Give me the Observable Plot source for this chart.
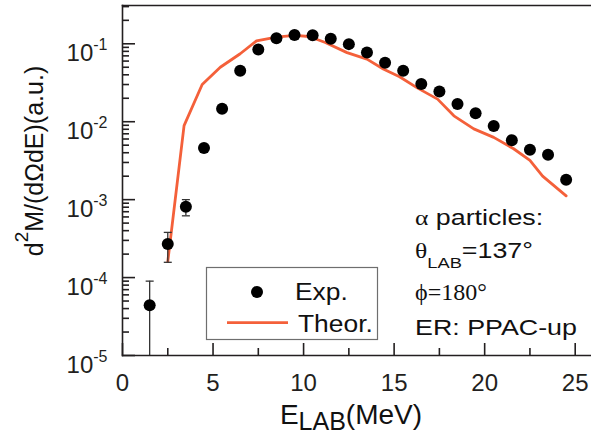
<!DOCTYPE html>
<html><head><meta charset="utf-8">
<script src="https://cdn.jsdelivr.net/npm/d3@7"></script>
<script src="https://cdn.jsdelivr.net/npm/@observablehq/plot@0.6"></script>
<style>
html,body{margin:0;padding:0;background:#fff;}
#chart{position:relative;width:591px;height:435px;overflow:hidden;}
</style></head><body><div id="chart"></div>
<script>
// ---- data ----
const expEnergy = [1.5, 2.5, 3.5, 4.5, 5.5, 6.5, 7.5, 8.5, 9.5, 10.5, 11.5, 12.5,
                   13.5, 14.5, 15.5, 16.5, 17.5, 18.5, 19.5, 20.5, 21.5, 22.5, 23.5, 24.5];
const expValue = [4.4e-5, 2.7e-4, 8.1e-4, 4.6e-3, 0.0147, 0.045, 0.0845, 0.118, 0.130, 0.129, 0.116, 0.099,
                  0.0774, 0.057, 0.045, 0.0304, 0.0245, 0.0169, 0.0128, 0.0088, 0.0058, 0.00437, 0.00378, 0.0018];
const errEnergy = [1.5, 2.5, 3.5];
const errLow = [5e-6, 1.57e-4, 6.2e-4];
const errHigh = [9e-5, 3.8e-4, 1.0e-3];
const theorEnergy = [2.5, 3.4, 4.4, 5.4, 6.5, 7.4, 8.5, 9.5, 10.3, 11.2, 12.4, 13.5,
                     14.4, 15.3, 16.3, 17.4, 18.3, 19.4, 20.5, 21.6, 22.5, 23.2, 24.5];
const theorValue = [1.6e-4, 8.9e-3, 0.030, 0.050, 0.0745, 0.109, 0.122, 0.128, 0.124, 0.104, 0.077, 0.0636,
                    0.0474, 0.0378, 0.027, 0.0195, 0.0119, 0.0081, 0.0063, 0.0045, 0.0032, 0.0020, 0.00112];
const xTicksMajor = [0, 5, 10, 15, 20, 25];
const xTicksMinor = [2.5, 7.5, 12.5, 17.5, 22.5];
const yTicksMajor = [1e-5, 1e-4, 1e-3, 1e-2, 1e-1];
const yTickExponents = ["-5", "-4", "-3", "-2", "-1"];
const xDomain = [0, 25.9];
const yDomain = [1e-5, 0.31];
const legendLabels = ["Exp.", "Theor."];

// ---- layout / style ----
const W = 591, H = 435, mL = 122, mT = 5, mB = 80, mR = 0;
const axisColor = "#231f20";
const theorColor = "#f4603a";
const sans = "'Liberation Sans', Arial, Helvetica, sans-serif";
const serif = "'Liberation Serif', 'Times New Roman', serif";

const yTicksMinor = [];
for (const dec of yTicksMajor) for (let k = 2; k <= 9; k++) { const v = dec * k; if (v <= yDomain[1]) yTicksMinor.push(v); }

const expData = expEnergy.map((e, i) => ({e, v: expValue[i]}));
const errData = errEnergy.map((e, i) => ({e, lo: errLow[i], hi: errHigh[i]}));
const capData = [];
errData.forEach(d => { capData.push({e: d.e, v: d.hi}); if (d.lo >= yDomain[0]) capData.push({e: d.e, v: d.lo}); });
const theorData = theorEnergy.map((e, i) => ({e, v: theorValue[i]}));
const expByTick = new Map(yTicksMajor.map((t, i) => [t, yTickExponents[i]]));

const capSymbol = {draw(ctx, size) { const r = Math.sqrt(size / Math.PI); ctx.moveTo(-r, 0); ctx.lineTo(r, 0); }};

const svg = Plot.plot({
  width: W, height: H, marginLeft: mL, marginRight: mR, marginTop: mT, marginBottom: mB,
  style: {fontFamily: sans, fontSize: "24px", color: axisColor, background: "#fff", overflow: "visible"},
  x: {domain: xDomain, label: null},
  y: {type: "log", domain: yDomain, label: null},
  marks: [
    // inward ticks (negative tick size points them into the frame)
    Plot.axisX({ticks: xTicksMajor, tickSize: -12, tickFormat: () => "", label: null, stroke: axisColor, strokeWidth: 1.6}),
    Plot.axisX({ticks: xTicksMinor, tickSize: -7, tickFormat: () => "", label: null, stroke: axisColor, strokeWidth: 1.6}),
    Plot.axisY({ticks: yTicksMajor, tickSize: -13, tickFormat: () => "", label: null, stroke: axisColor, strokeWidth: 1.6}),
    Plot.axisY({ticks: yTicksMinor, tickSize: -7, tickFormat: () => "", label: null, stroke: axisColor, strokeWidth: 1.6}),
    // tick labels
    Plot.axisX({ticks: xTicksMajor, tickSize: 0, tickPadding: 18, fontSize: 24, tickFormat: d => String(d), label: null}),
    Plot.axisY({ticks: yTicksMajor, tickSize: 0, tickPadding: 15, fontSize: 24, tickFormat: d => "10^" + expByTick.get(d), label: null}),
    // data
    Plot.line(theorData, {x: "e", y: "v", stroke: theorColor, strokeWidth: 2.8}),
    Plot.ruleX(errData, {x: "e", y1: "lo", y2: "hi", stroke: "#333", strokeWidth: 1.3, clip: true}),
    Plot.dot(capData, {x: "e", y: "v", symbol: capSymbol, r: 4, stroke: "#333", strokeWidth: 1.3, fill: "none"}),
    Plot.dot(expData, {x: "e", y: "v", r: 6, fill: "#000", stroke: "none"}),
    // frame
    Plot.frame({anchor: "left", stroke: axisColor, strokeWidth: 1.6}),
    Plot.frame({anchor: "bottom", stroke: axisColor, strokeWidth: 1.6}),
    Plot.frame({anchor: "top", stroke: axisColor, strokeWidth: 1.6})
  ]
});
document.getElementById("chart").appendChild(svg);

const root = d3.select(svg);
// y tick labels: 10 with superscript exponent
root.selectAll('g[aria-label="y-axis tick label"] text').each(function () {
  const m = this.textContent.match(/^10\^(-?\d+)$/);
  if (!m) return;
  const t = d3.select(this);
  t.text("").attr("dy", 10);
  t.append("tspan").text("10");
  t.append("tspan").attr("dy", -11).attr("font-size", 16).text(m[1]);
});

function rich(parent, parts, attrs = {}) {
  const t = parent.append("text").attr("text-anchor", "start");
  for (const k in attrs) t.attr(k, attrs[k]);
  let shift = 0;
  for (const p of parts) {
    const s = t.append("tspan").text(p.t);
    const want = p.shift || 0;
    if (want !== shift) { s.attr("dy", want - shift); shift = want; }
    if (p.size) s.attr("font-size", p.size);
    if (p.family) s.attr("font-family", p.family);
  }
  return t;
}
const ann = root.append("g").attr("fill", "#111").attr("font-family", sans).attr("text-anchor", "start");

// axis titles
rich(ann, [{t: "E", size: 28}, {t: "LAB", size: 25, shift: 6}, {t: "(MeV)", size: 28, shift: 0}],
  {x: 351, y: 424, "text-anchor": "middle"});
rich(ann.append("g").attr("transform", "translate(43,161) rotate(-90)"),
  [{t: "d", size: 25}, {t: "2", size: 19, shift: -15}, {t: "M/(dΩdE)(a.u.)", size: 25, shift: 0}],
  {x: 0, y: 0, "text-anchor": "middle"});

// legend
const lg = root.append("g").attr("text-anchor", "start");
lg.append("rect").attr("x", 206.5).attr("y", 267.5).attr("width", 171).attr("height", 72)
  .attr("fill", "#fff").attr("stroke", "#6e6e6e").attr("stroke-width", 1.2);
lg.append("circle").attr("cx", 257).attr("cy", 292).attr("r", 6).attr("fill", "#000");
lg.append("line").attr("x1", 227).attr("x2", 288).attr("y1", 322.7).attr("y2", 322.7)
  .attr("stroke", theorColor).attr("stroke-width", 2.8);
rich(lg.append("g").attr("transform", "translate(295,300) scale(1.1,1)"), [{t: legendLabels[0], size: 24}], {fill: "#111", "font-family": sans});
rich(lg.append("g").attr("transform", "translate(298,331.5) scale(1.1,1)"), [{t: legendLabels[1], size: 24}], {fill: "#111", "font-family": sans});

// annotations
rich(ann.append("g").attr("transform", "translate(415,225) scale(1.22,1)"),
  [{t: "α", size: 21, family: serif}, {t: " particles:", size: 22}]);
rich(ann.append("g").attr("transform", "translate(415,258) scale(1.22,1)"),
  [{t: "θ", size: 21, family: serif}, {t: "LAB", size: 15, shift: 10}, {t: "=137°", size: 22, shift: 0}]);
rich(ann.append("g").attr("transform", "translate(415,300)"),
  [{t: "ϕ=180°", size: 24, family: serif}]);
rich(ann.append("g").attr("transform", "translate(415,335) scale(1.22,1)"),
  [{t: "ER: PPAC-up", size: 22}]);
</script></body></html>
